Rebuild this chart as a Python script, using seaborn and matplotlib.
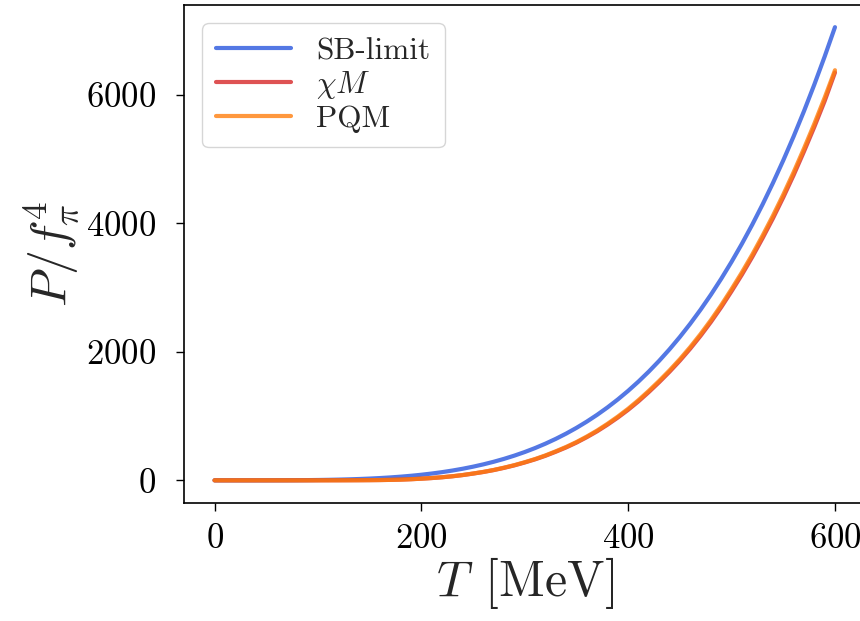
import numpy as np
import pandas as pd
import matplotlib
matplotlib.use("Agg")
import matplotlib.pyplot as plt
import seaborn as sns

# Temperature grid [MeV]
T = [0, 10, 20, 30, 40, 50, 60, 70, 80, 90,
     100, 110, 120, 130, 140, 150, 160, 170, 180, 190,
     200, 210, 220, 230, 240, 250, 260, 270, 280, 290,
     300, 310, 320, 330, 340, 350, 360, 370, 380, 390,
     400, 410, 420, 430, 440, 450, 460, 470, 480, 490,
     500, 510, 520, 530, 540, 550, 560, 570, 580, 590, 600]

# P / f_pi^4
sb_limit = [0, 0.0005, 0.009, 0.044, 0.14, 0.34, 0.70, 1.31, 2.23, 3.57,
            5.44, 7.96, 11.3, 15.5, 20.9, 27.5, 35.6, 45.4, 57.1, 70.9,
            87.0, 105.8, 127.4, 152.2, 180.5, 212.5, 248.6, 289.1, 334.4, 384.7,
            440.6, 502.4, 570.4, 645.1, 726.9, 816.3, 913.7, 1019.5, 1134.3, 1258.5,
            1392.6, 1537.2, 1692.7, 1859.8, 2038.9, 2230.7, 2435.7, 2654.5, 2887.7, 3135.9,
            3399.9, 3680.1, 3977.4, 4292.3, 4625.5, 4977.8, 5349.8, 5742.3, 6156.0, 6591.7, 7050.0]
chi_m = [0, 0, 0, 0, 0, 0.01, 0.02, 0.05, 0.09, 0.16,
         0.26, 0.47, 0.78, 1.22, 1.85, 2.9, 4.5, 7.2, 11.2, 17.4,
         25.7, 35.5, 47.7, 62.9, 81.8, 104.7, 129.8, 159.5, 194.3, 233.1,
         277.8, 326.6, 382.1, 444.8, 511.9, 587.0, 671.4, 763.2, 865.9, 976.8,
         1097.4, 1229.5, 1374.0, 1527.0, 1689.0, 1862.0, 2048.0, 2248.0, 2463.0, 2694.0,
         2942.0, 3200.0, 3475.0, 3768.0, 4075.0, 4402.0, 4748.0, 5115.0, 5497.0, 5900.0, 6345.0]
pqm = [0, 0, 0, 0, 0, 0.01, 0.02, 0.05, 0.09, 0.16,
       0.27, 0.48, 0.79, 1.24, 1.88, 3.0, 4.6, 7.3, 11.4, 17.7,
       26.1, 36.0, 48.4, 63.9, 83.0, 106.3, 131.8, 161.9, 197.3, 236.6,
       282.0, 331.6, 387.9, 451.6, 519.7, 595.9, 681.6, 774.8, 879.1, 991.7,
       1114.1, 1248.2, 1393.1, 1547.4, 1710.6, 1884.9, 2072.8, 2274.9, 2492.1, 2725.1,
       2974.9, 3235.2, 3512.0, 3807.3, 4116.7, 4445.2, 4793.4, 5162.3, 5546.6, 5952.3, 6380.3]

labels = ["SB-limit", r"$\chi M$", "PQM"]
colors = ["royalblue", "tab:red", "tab:orange"]
alphas = [0.9, 0.8, 0.8]

df = pd.concat([
    pd.DataFrame({"T": T, "P": sb_limit, "model": labels[0]}),
    pd.DataFrame({"T": T, "P": chi_m, "model": labels[1]}),
    pd.DataFrame({"T": T, "P": pqm, "model": labels[2]}),
], ignore_index=True)

sns.set_style("ticks")
plt.rcParams["font.family"] = ["cmr10", "DejaVu Serif"]
plt.rcParams["mathtext.fontset"] = "cm"
plt.rcParams["axes.formatter.use_mathtext"] = True
plt.rcParams["axes.unicode_minus"] = False

fig = plt.figure(figsize=(8.6, 6.21), dpi=100)
W, H = 860, 621
left, right, bottom, top = 183.5, 866, 503, 4.5
ax = fig.add_axes([left / W, (H - bottom) / H, (right - left) / W, (bottom - top) / H])

for lab, col, a in zip(labels, colors, alphas):
    sns.lineplot(data=df[df["model"] == lab], x="T", y="P", ax=ax,
                 color=col, alpha=a, lw=3, label=lab)

ax.set_xticks([0, 200, 400, 600])
ax.set_yticks([0, 2000, 4000, 6000])
ax.tick_params(axis="both", labelsize=25, length=6, width=1, colors="black")
ax.tick_params(axis="y", pad=14)
ax.tick_params(axis="x", pad=9)
for s in ax.spines.values():
    s.set_color("black")
    s.set_linewidth(1.2)

ax.set_xlabel(r"$T\;\,[\mathrm{MeV}]$", fontsize=36, labelpad=0)
ax.set_ylabel(r"$P/f_\pi^4$", fontsize=36, labelpad=2)

leg = ax.legend(loc="upper left", fontsize=22.5, handlelength=2.4,
                handletextpad=0.8, labelspacing=0.12, frameon=True,
                borderaxespad=0.6, borderpad=0.45)
leg.get_frame().set_edgecolor("#cccccc")

fig.savefig("out.png", dpi=100)
